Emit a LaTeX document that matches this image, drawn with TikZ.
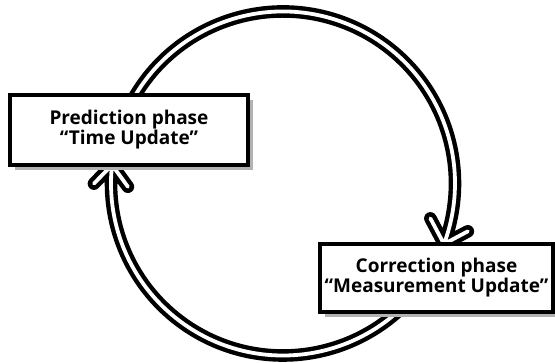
\documentclass[tikz,border=0pt]{standalone}
\usepackage{fontspec}
\setmainfont{Open Sans}
\usetikzlibrary{shadows,backgrounds,calc}

\tikzset{
  phase/.style={draw=black, line width=4pt, fill=white, align=center,
    font=\bfseries\fontsize{19}{18}\selectfont, inner sep=0pt,
    drop shadow={shadow xshift=5pt, shadow yshift=-5pt, fill=black!30, opacity=1}},
  cyclearrow/.style={draw=black, line width=4.4pt, double=white, double distance=3.8pt,
    line join=round, line cap=round}
}

\begin{document}
\begin{tikzpicture}[x=1pt, y=1pt]
  \useasboundingbox (0,0) rectangle (555,363);

  % the two phases
  \node[phase, minimum width=238pt, minimum height=70pt] (predict) at (129,233)
    {Prediction phase\\``Time Update''};
  \node[phase, minimum width=233pt, minimum height=68pt] (correct) at (436.5,85)
    {Correction phase\\``Measurement Update''};

  % the cycle between them, arcs behind the boxes
  \coordinate (ctr) at (283,179.5);
  \coordinate (topstart) at ($(ctr)+(160:172)$);
  \coordinate (toptip) at ($(ctr)+(-20.6:172)$);
  \coordinate (botstart) at ($(ctr)+(-35:172)$);
  \coordinate (bottip) at ($(ctr)+(173.8:172)$);
  \begin{scope}[on background layer]
    \draw[cyclearrow] (topstart) arc[start angle=160, end angle=-20.6, radius=172]
      (toptip) ++(118:29) -- (toptip) -- ++(28:27);
    \draw[cyclearrow] (botstart) arc[start angle=-35, end angle=-186.2, radius=172]
      (bottip) ++(306:27) -- (bottip) -- ++(226:26);
  \end{scope}
\end{tikzpicture}
\end{document}
